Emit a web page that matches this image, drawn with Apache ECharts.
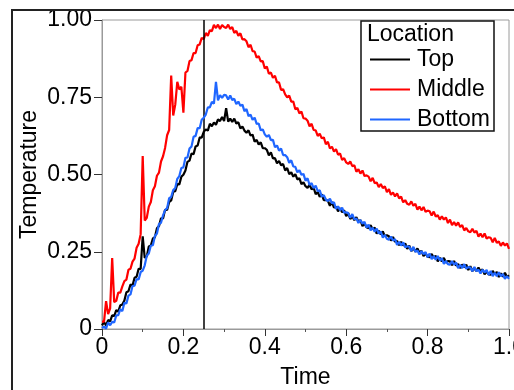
<!DOCTYPE html>
<html>
<head>
<meta charset="utf-8">
<script src="https://cdn.jsdelivr.net/npm/echarts@6/dist/echarts.min.js"></script>
<style>
  html, body { margin: 0; padding: 0; background: #fff; }
  #chart { width: 514px; height: 390px; }
</style>
</head>
<body>
<div id="chart"></div>
<script>
// Readings are taken every 0.005 time units, from t = 0 to t = 1.0
const sampleStep = 0.005;

const topTemp = [
  0.012,
  0.022,0.012,0.029,0.025,0.044,0.042,0.061,0.056,0.077,0.079,
  0.092,0.119,0.122,0.144,0.141,0.166,0.169,0.195,0.194,0.30,
  0.23,0.235,0.267,0.27,0.293,0.297,0.326,0.333,0.358,0.358,
  0.386,0.385,0.411,0.416,0.444,0.446,0.469,0.468,0.493,0.499,
  0.513,0.541,0.545,0.568,0.566,0.591,0.594,0.62,0.619,0.638,
  0.646,0.642,0.664,0.656,0.668,0.661,0.678,0.673,0.686,0.673,
  0.715,0.671,0.681,0.67,0.681,0.665,0.669,0.649,0.655,0.642,
  0.635,0.643,0.626,0.629,0.606,0.612,0.597,0.604,0.585,0.585,
  0.58,0.562,0.572,0.552,0.553,0.536,0.544,0.53,0.534,0.513,
  0.521,0.501,0.507,0.493,0.501,0.484,0.488,0.469,0.475,0.462,
  0.457,0.467,0.452,0.457,0.436,0.443,0.428,0.436,0.417,0.418,
  0.415,0.399,0.411,0.393,0.396,0.381,0.391,0.378,0.384,0.365,
  0.375,0.356,0.365,0.352,0.362,0.347,0.352,0.333,0.341,0.329,
  0.326,0.336,0.323,0.328,0.309,0.318,0.306,0.316,0.3,0.303,
  0.3,0.286,0.298,0.282,0.285,0.271,0.282,0.27,0.277,0.259,
  0.27,0.252,0.262,0.25,0.261,0.247,0.253,0.236,0.244,0.234,
  0.232,0.243,0.231,0.237,0.219,0.23,0.219,0.23,0.215,0.22,
  0.219,0.206,0.22,0.205,0.21,0.197,0.209,0.2,0.208,0.191,
  0.203,0.187,0.197,0.187,0.199,0.186,0.193,0.177,0.186,0.177,
  0.176,0.188,0.177,0.185,0.168,0.18,0.169,0.182,0.168,0.174
];

const middleTemp = [
  0.024,
  0.024,0.09,0.048,0.067,0.23,0.087,0.091,0.118,0.118,0.138,
  0.155,0.16,0.192,0.195,0.218,0.228,0.263,0.276,0.307,0.56,
  0.351,0.36,0.396,0.411,0.449,0.462,0.496,0.506,0.542,0.559,
  0.586,0.627,0.644,0.82,0.691,0.726,0.80,0.775,0.784,0.70,
  0.83,0.835,0.867,0.87,0.893,0.893,0.918,0.921,0.942,0.938,
  0.958,0.949,0.967,0.964,0.984,0.974,0.985,0.971,0.984,0.977,
  0.974,0.985,0.971,0.977,0.958,0.965,0.949,0.957,0.937,0.938,
  0.931,0.912,0.92,0.899,0.898,0.878,0.883,0.866,0.867,0.843,
  0.849,0.826,0.83,0.813,0.819,0.798,0.798,0.774,0.776,0.759,
  0.75,0.755,0.736,0.736,0.711,0.716,0.698,0.704,0.682,0.681,
  0.674,0.656,0.664,0.644,0.643,0.625,0.632,0.617,0.62,0.598,
  0.606,0.584,0.59,0.574,0.582,0.564,0.568,0.547,0.553,0.539,
  0.534,0.542,0.527,0.53,0.509,0.517,0.503,0.513,0.495,0.497,
  0.493,0.478,0.489,0.472,0.474,0.459,0.469,0.456,0.462,0.443,
  0.453,0.434,0.442,0.429,0.439,0.423,0.428,0.41,0.417,0.405,
  0.402,0.413,0.399,0.405,0.386,0.396,0.384,0.395,0.379,0.383,
  0.381,0.367,0.38,0.364,0.368,0.354,0.365,0.354,0.361,0.343,
  0.354,0.336,0.346,0.334,0.345,0.33,0.336,0.319,0.327,0.316,
  0.313,0.324,0.312,0.318,0.299,0.309,0.297,0.309,0.293,0.297,
  0.295,0.281,0.295,0.279,0.283,0.269,0.28,0.27,0.277,0.259
];

const bottomTemp = [
  0.003,
  0.008,0.001,0.021,0.012,0.023,0.021,0.044,0.045,0.064,0.058,
  0.085,0.083,0.108,0.112,0.139,0.14,0.162,0.16,0.184,0.189,
  0.206,0.237,0.244,0.27,0.271,0.301,0.309,0.34,0.344,0.368,
  0.385,0.391,0.423,0.427,0.45,0.456,0.486,0.495,0.521,0.523,
  0.554,0.555,0.584,0.591,0.622,0.625,0.65,0.65,0.677,0.684,
  0.694,0.717,0.717,0.735,0.729,0.80,0.74,0.757,0.748,0.758,
  0.756,0.743,0.756,0.741,0.745,0.728,0.736,0.722,0.726,0.705,
  0.712,0.689,0.694,0.677,0.684,0.664,0.665,0.643,0.646,0.63,
  0.622,0.628,0.611,0.612,0.588,0.594,0.577,0.584,0.563,0.563,
  0.556,0.538,0.546,0.526,0.525,0.507,0.514,0.499,0.502,0.48,
  0.488,0.466,0.472,0.456,0.464,0.446,0.449,0.428,0.433,0.419,
  0.414,0.422,0.407,0.41,0.389,0.397,0.384,0.393,0.376,0.378,
  0.375,0.36,0.372,0.355,0.358,0.343,0.353,0.341,0.347,0.328,
  0.338,0.319,0.328,0.315,0.325,0.309,0.315,0.296,0.304,0.292,
  0.289,0.299,0.286,0.291,0.272,0.282,0.27,0.28,0.264,0.268,
  0.266,0.252,0.266,0.25,0.254,0.241,0.252,0.242,0.249,0.232,
  0.244,0.226,0.236,0.224,0.236,0.222,0.229,0.211,0.22,0.21,
  0.208,0.22,0.208,0.215,0.197,0.208,0.197,0.21,0.195,0.2,
  0.199,0.187,0.201,0.187,0.192,0.18,0.192,0.183,0.191,0.175,
  0.188,0.171,0.182,0.171,0.184,0.171,0.178,0.162,0.171,0.162
];

const seriesNames = ['Top', 'Middle', 'Bottom'];
const seriesColors = ['#000000', '#ff0000', '#1f66ff'];
const legendTitle = 'Location';
const xTickLabels = ['0', '0.2', '0.4', '0.6', '0.8', '1.0'];
const yTickLabels = ['0', '0.25', '0.50', '0.75', '1.00'];
const xAxisTitle = 'Time';
const yAxisTitle = 'Temperature';
const markerTime = 0.25;

const FONT = "'Liberation Sans', Arial, Helvetica, sans-serif";
const FONT_SIZE = 23;

function toPairs(values) {
  return values.map((v, i) => [+(i * sampleStep).toFixed(3), v]);
}

const chart = echarts.init(document.getElementById('chart'), null, { renderer: 'canvas' });

const allValues = [topTemp, middleTemp, bottomTemp];

const series = seriesNames.map((name, k) => ({
  name: name,
  type: 'line',
  data: toPairs(allValues[k]),
  showSymbol: false,
  symbol: 'none',
  lineStyle: { color: seriesColors[k], width: 2.2 },
  itemStyle: { color: seriesColors[k] },
  emphasis: { disabled: true },
  z: 3 + k
}));

// vertical marker at t = markerTime
series[0].markLine = {
  silent: true,
  symbol: ['none', 'none'],
  label: { show: false },
  lineStyle: { color: '#000', width: 1.5, type: 'solid' },
  data: [{ xAxis: markerTime }],
  animation: false
};

chart.setOption({
  animation: false,
  backgroundColor: '#fff',
  textStyle: { fontFamily: FONT },
  grid: {
    left: 102, right: 5, top: 20, bottom: 61,
    outerBoundsMode: 'none',
    containLabel: false,
    show: true, borderColor: '#9a9a9a', borderWidth: 1
  },
  xAxis: {
    type: 'value',
    min: 0, max: 1, interval: 0.2,
    name: xAxisTitle,
    nameLocation: 'middle',
    nameGap: 37,
    nameMoveOverlap: false,
    nameTextStyle: { color: '#000', fontSize: FONT_SIZE, fontFamily: FONT },
    axisLine: { show: true, lineStyle: { color: '#9a9a9a', width: 1 } },
    axisTick: { show: true, length: 7, lineStyle: { color: '#333', width: 1 } },
    minorTick: { show: true, splitNumber: 2, length: 3, lineStyle: { color: '#555' } },
    splitLine: { show: false },
    axisLabel: {
      color: '#000', fontSize: FONT_SIZE, fontFamily: FONT, margin: 7,
      showMaxLabel: true,
      formatter: v => xTickLabels[Math.round(v / 0.2)]
    }
  },
  yAxis: {
    type: 'value',
    min: 0, max: 1, interval: 0.25,
    name: yAxisTitle,
    nameLocation: 'middle',
    nameGap: 61,
    nameMoveOverlap: false,
    nameTextStyle: { color: '#000', fontSize: FONT_SIZE, fontFamily: FONT },
    axisLine: { show: true, lineStyle: { color: '#9a9a9a', width: 1 } },
    axisTick: { show: true, length: 8, lineStyle: { color: '#333', width: 1 } },
    splitLine: { show: false },
    axisLabel: {
      color: '#000', fontSize: FONT_SIZE, fontFamily: FONT, margin: 10,
      showMaxLabel: true,
      formatter: v => yTickLabels[Math.round(v / 0.25)]
    }
  },
  legend: {
    data: seriesNames,
    orient: 'vertical',
    left: 370,
    top: 48,
    padding: 0,
    itemGap: 7,
    itemWidth: 40,
    itemHeight: 2,
    icon: 'rect',
    selectedMode: false,
    z: 120,
    textStyle: { color: '#000', fontSize: FONT_SIZE, fontFamily: FONT, padding: [0, 0, 0, 2] }
  },
  graphic: [
    // outer frame around the whole figure
    {
      type: 'rect', silent: true, z: 100,
      shape: { x: 12, y: 10, width: 540, height: 420 },
      style: { fill: 'none', stroke: '#222', lineWidth: 2 }
    },
    // legend box
    {
      type: 'rect', silent: true, z: 100,
      shape: { x: 361, y: 21, width: 133, height: 110 },
      style: { fill: '#fff', stroke: '#111', lineWidth: 1.5 }
    },
    {
      type: 'text', silent: true, z: 101,
      left: 367, top: 23,
      style: { text: legendTitle, fill: '#000', font: FONT_SIZE + 'px ' + FONT }
    }
  ],
  series: series
});
</script>
</body>
</html>
